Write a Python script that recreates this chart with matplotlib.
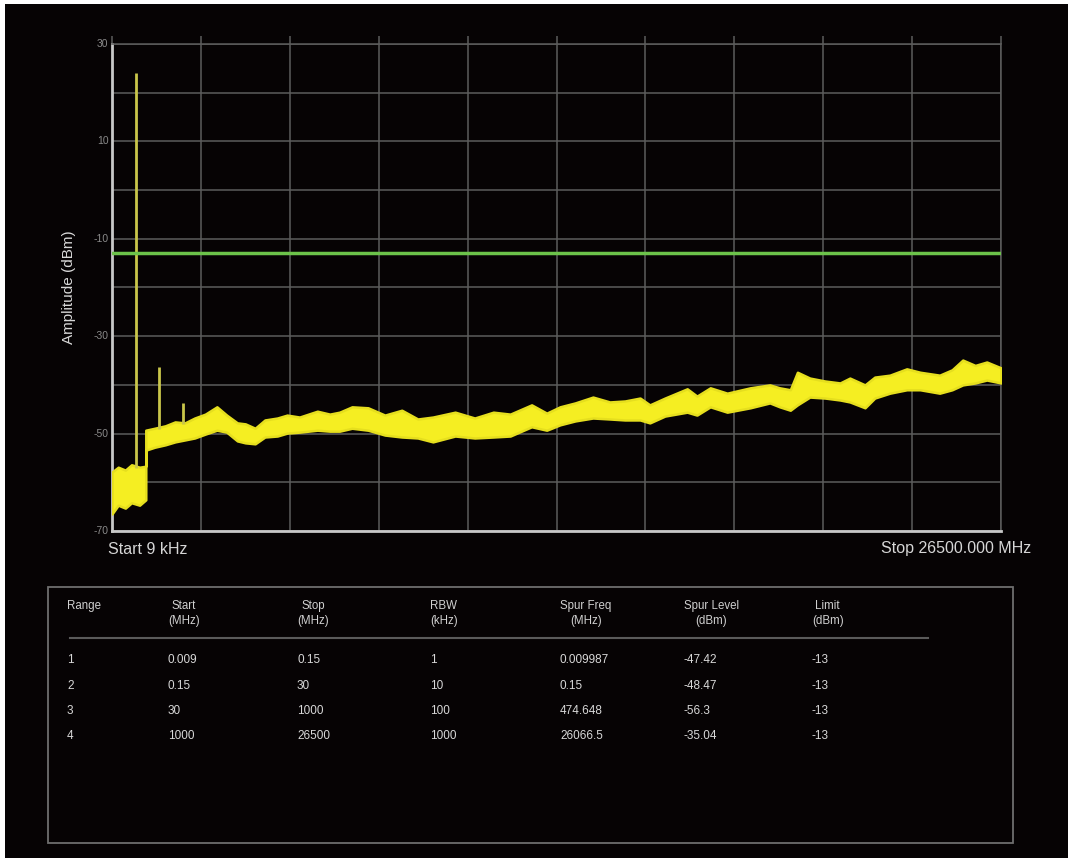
import matplotlib
matplotlib.use("Agg")
import matplotlib.pyplot as plt
from matplotlib.patches import Rectangle

plt.rcParams['font.family'] = ['Liberation Sans', 'DejaVu Sans']

# ---------------- data ----------------
# sweep position (0..1000 across the display), upper / lower envelope of trace (dBm)
sweep_pos = [0, 7, 15, 22, 31, 38,
             38, 48, 60, 71, 82, 93, 105, 118, 129, 141, 150, 161, 172, 186, 197,
             211, 231, 245, 256, 270, 288, 307, 326, 344, 361, 386, 408, 429, 448,
             472, 489, 504, 521, 541, 560, 577, 594, 605, 622, 647, 658, 673, 692,
             718, 740, 751, 763, 771, 785, 802, 819, 830, 847, 858, 875, 894, 909,
             931, 945, 957, 971, 984, 1000]
trace_upper = [-57.9, -56.9, -57.5, -56.4, -56.9, -56.7,
               -49.3, -48.9, -48.4, -47.6, -47.8, -46.8, -46.0, -44.5, -46.2, -47.8,
               -48.0, -48.9, -47.2, -46.8, -46.2, -46.6, -45.4, -46.0, -45.6, -44.5,
               -44.7, -46.2, -45.2, -47.0, -46.6, -45.6, -46.8, -45.6, -46.0, -44.1,
               -45.8, -44.5, -43.7, -42.5, -43.5, -43.3, -42.7, -44.1, -42.7, -40.8,
               -42.3, -40.6, -41.7, -40.6, -40.0, -40.6, -41.0, -37.4, -38.6, -39.2,
               -39.6, -38.6, -40.0, -38.4, -38.0, -36.7, -37.4, -38.0, -36.9, -34.9,
               -36.0, -35.3, -36.5]
trace_lower = [-66.5, -64.7, -65.3, -64.2, -64.7, -63.6,
               -53.4, -52.8, -52.3, -51.7, -51.3, -50.9, -50.1, -49.3, -49.7, -51.5,
               -51.9, -52.1, -50.7, -50.5, -49.9, -49.7, -49.3, -49.5, -49.5, -48.9,
               -49.3, -50.3, -50.7, -50.9, -51.7, -50.5, -50.9, -50.7, -50.5, -48.6,
               -49.3, -48.2, -47.4, -46.8, -47.0, -47.2, -47.2, -47.8, -46.4, -45.6,
               -46.2, -44.5, -45.6, -44.7, -43.7, -44.5, -45.2, -44.1, -42.5, -42.7,
               -43.1, -43.5, -44.7, -42.7, -41.7, -41.0, -41.0, -41.7, -41.0, -40.0,
               -39.6, -39.0, -39.6]

# discrete spurs
spur_pos = [27, 53, 80]
spur_peak = [24.0, -36.3, -43.7]
spur_base = [-57.0, -49.0, -48.0]

limit_dbm = -13

y_ticks = [30, 10, -10, -30, -50, -70]
start_label = "Start 9 kHz"
stop_label = "Stop 26500.000 MHz"

# table
tbl_headers = ["Range", "Start\n(MHz)", "Stop\n(MHz)", "RBW\n(kHz)",
               "Spur Freq\n(MHz)", "Spur Level\n(dBm)", "Limit\n(dBm)"]
tbl_range = ["1", "2", "3", "4"]
tbl_start = ["0.009", "0.15", "30", "1000"]
tbl_stop = ["0.15", "30", "1000", "26500"]
tbl_rbw = ["1", "10", "100", "1000"]
tbl_spur_freq = ["0.009987", "0.15", "474.648", "26066.5"]
tbl_spur_level = ["-47.42", "-48.47", "-56.3", "-35.04"]
tbl_limit = ["-13", "-13", "-13", "-13"]

# ---------------- figure ----------------
W, H = 1068, 858
fig = plt.figure(figsize=(W / 100, H / 100), dpi=100, facecolor="white")
fig.patches.append(Rectangle((5 / W, 0), 1, (H - 4) / H, transform=fig.transFigure,
                             facecolor="#060304", edgecolor="none", zorder=-10))

def fx(px):
    return px / W

def fy(py):
    return 1 - py / H

ax = fig.add_axes([fx(112), fy(531), fx(1001) - fx(112), fy(44) - fy(531)])
ax.set_facecolor("#060304")
ax.set_xlim(0, 1000)
ax.set_ylim(-70, 30)

# grid
ax.set_xticks(range(0, 1001, 100))
ax.set_yticks(range(-70, 31, 10))
ax.grid(True, color="#5c5c5c", linewidth=1.1)
ax.tick_params(axis="x", which="both", bottom=False, top=True, labelbottom=False,
               labeltop=False, length=6, color="#5c5c5c", width=1.1, direction="out")
ax.tick_params(axis="y", which="both", left=False, labelleft=False)
for side in ["top", "right"]:
    ax.spines[side].set_color("#5c5c5c")
    ax.spines[side].set_linewidth(1.1)
for side in ["left", "bottom"]:
    ax.spines[side].set_color("#c8c8c8")
    ax.spines[side].set_linewidth(2.0)

for v in y_ticks:
    ax.text(-4, v, str(v), transform=ax.transData, ha="right", va="center",
            fontsize=7.5, color="#8a8a8a", clip_on=False)

# trace
ax.fill_between(sweep_pos, trace_lower, trace_upper, color="#f5ee22",
                linewidth=1.8, edgecolor="#e6df1e", zorder=3)
ax.vlines(spur_pos, spur_base, spur_peak, colors="#c9c64a", linewidth=2.0, zorder=4)
ax.axhline(limit_dbm, color="#6cc34a", linewidth=2.5, zorder=5)

ax.set_ylabel("Amplitude (dBm)", color="#d8d8d8", fontsize=11, labelpad=26)

fig.text(fx(108), fy(549), start_label, ha="left", va="center", fontsize=11.5,
         color="#d6d6d6")
fig.text(fx(1031), fy(549), stop_label, ha="right", va="center", fontsize=11.5,
         color="#d6d6d6")

# ---------------- table ----------------
fig.patches.append(Rectangle((fx(48), fy(843)), fx(1013) - fx(48), fy(587) - fy(843),
                             transform=fig.transFigure, facecolor="none",
                             edgecolor="#6e6e6e", linewidth=1.3))
fig.lines.append(plt.Line2D([fx(70), fx(928)], [fy(638), fy(638)],
                            transform=fig.transFigure, color="#5a5a5a", linewidth=1.5))

col_x = [67, 168, 297, 430, 560, 684, 812]
columns = [tbl_range, tbl_start, tbl_stop, tbl_rbw, tbl_spur_freq, tbl_spur_level, tbl_limit]
row_y = [660, 686, 711, 736]
for cx, head, col in zip(col_x, tbl_headers, columns):
    fig.text(fx(cx), fy(600), head, ha="left", va="top", fontsize=8.3,
             color="#d0d0d0", multialignment="center", linespacing=1.3)
    for ry, val in zip(row_y, col):
        fig.text(fx(cx), fy(ry), val, ha="left", va="center", fontsize=8.5,
                 color="#d8d8d8")

fig.savefig("out.png", dpi=100, facecolor=fig.get_facecolor())
